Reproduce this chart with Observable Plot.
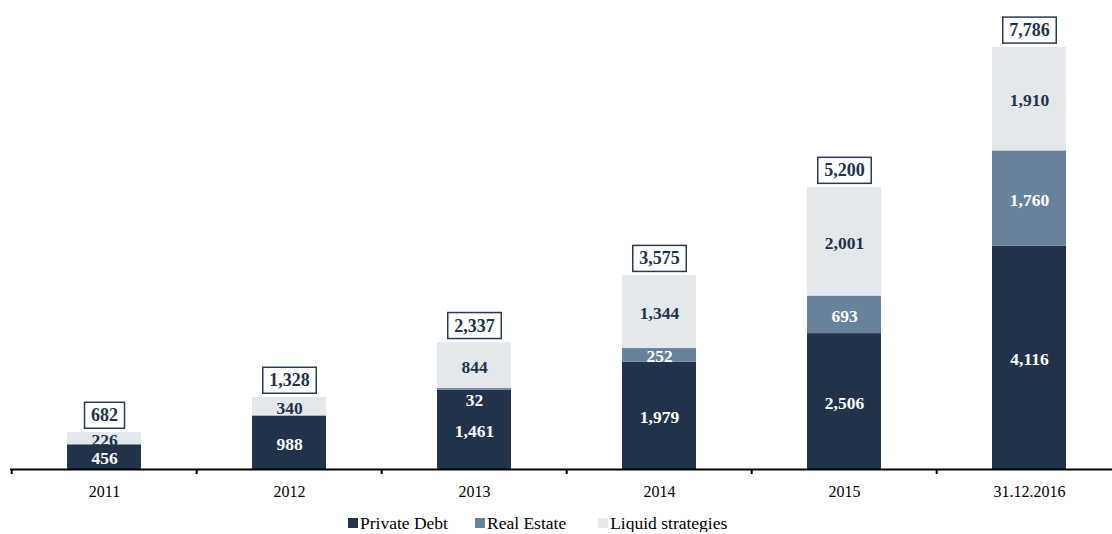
<!DOCTYPE html>
<html>
<head>
<meta charset="utf-8">
<script src="https://cdn.jsdelivr.net/npm/d3@7"></script>
<script src="https://cdn.jsdelivr.net/npm/@observablehq/plot@0.6"></script>
<style>
  html, body { margin: 0; padding: 0; background: #fff; overflow: hidden; }
  #chart { width: 1112px; }
  #legend { display: flex; justify-content: flex-start; align-items: center; padding-left: 348px; margin-top: 9px;
            font-family: "Liberation Serif", "Times New Roman", serif; font-size: 17.5px; color: #000; line-height: 18px; }
  .item { display: flex; align-items: center; }
  .item + .item { margin-left: 27px; }
  .item + .item + .item { margin-left: 32px; }
  .sw { width: 10px; height: 10px; margin-right: 2px; }
</style>
</head>
<body>
<div id="chart"></div>
<div id="legend"></div>
<script>
const categories = ["2011", "2012", "2013", "2014", "2015", "31.12.2016"];
const seriesNames = ["Private Debt", "Real Estate", "Liquid strategies"];
const privateDebt = [456, 988, 1461, 1979, 2506, 4116];
const realEstate = [0, 0, 32, 252, 693, 1760];
const liquidStrategies = [226, 340, 844, 1344, 2001, 1910];
const totals = [682, 1328, 2337, 3575, 5200, 7786];
const seriesColors = ["#22324b", "#68829a", "#e3e8ed"];
const labelColors = ["#ffffff", "#ffffff", "#22324b"];

const seriesValues = [privateDebt, realEstate, liquidStrategies];
const rows = [];
categories.forEach((c, i) => {
  let base = 0;
  seriesNames.forEach((s, j) => {
    const v = seriesValues[j][i];
    rows.push({category: c, series: s, value: v, y1: base, y2: base + v, mid: base + v / 2});
    base += v;
  });
});
const totalRows = categories.map((c, i) => ({category: c, total: totals[i]}));

const fmt = d3.format(",");
const xRange = [10, 1123.6];
const step = (xRange[1] - xRange[0]) / categories.length;
const labelColor = new Map(seriesNames.map((s, j) => [s, labelColors[j]]));

const chart = Plot.plot({
  width: 1112,
  height: 505,
  marginTop: 0,
  marginLeft: 10,
  marginRight: 0,
  marginBottom: 36,
  style: {fontFamily: "'Liberation Serif', 'Times New Roman', serif", background: "#fff"},
  x: {type: "band", domain: categories, range: xRange, paddingInner: 0.6, paddingOuter: 0.3},
  y: {domain: [0, 8650], axis: null},
  color: {domain: seriesNames, range: seriesColors},
  marks: [
    Plot.rectY(rows.filter(d => d.value > 0), {x: "category", y1: "y1", y2: "y2", fill: "series"}),
    Plot.text(rows.filter(d => d.value >= 100), {
      x: "category", y: "mid",
      text: d => fmt(d.value), fill: d => labelColor.get(d.series),
      fontSize: 17.5, fontWeight: "bold", dy: 1.5
    }),
    Plot.text(rows.filter(d => d.value > 0 && d.value < 100), {
      x: "category", y: "mid",
      text: d => fmt(d.value), fill: d => labelColor.get(d.series),
      fontSize: 17.5, fontWeight: "bold", dy: 11
    }),
    Plot.text(totalRows, {
      x: "category", y: "total", text: d => fmt(d.total),
      fill: "#22324b", fontSize: 18, fontWeight: "bold", dy: -17
    }),
    Plot.ruleY([0], {stroke: "#000", strokeWidth: 2}),
    Plot.ruleX(categories, {x: d => d, dx: -step / 2, y1: 0, y2: 0, insetBottom: -5, stroke: "#000", strokeWidth: 2}),
    Plot.axisX({tickSize: 0, tickPadding: 16, fontSize: 16, label: null, fill: "#000"})
  ]
});
document.getElementById("chart").appendChild(chart);

// draw boxes around total labels
const totalStrings = new Set(totals.map(fmt));
d3.select(chart).selectAll("text")
  .filter(function() { return totalStrings.has(this.textContent) && this.getAttribute("fill") !== "#000"; })
  .each(function() {
    const b = this.getBBox();
    const cy = b.y + b.height / 2;
    const tr = this.getAttribute("transform");
    const r = d3.select(this.parentNode).insert("rect", "text")
      .attr("x", b.x - 6.5).attr("y", cy - 13)
      .attr("width", b.width + 13).attr("height", 26)
      .attr("fill", "#fff").attr("stroke", "#2a3a55").attr("stroke-width", 1.5);
    if (tr) r.attr("transform", tr);
  });

const legend = document.getElementById("legend");
seriesNames.forEach((s, j) => {
  const item = document.createElement("div");
  item.className = "item";
  const sw = document.createElement("span");
  sw.className = "sw";
  sw.style.background = seriesColors[j];
  const t = document.createElement("span");
  t.textContent = s;
  item.appendChild(sw);
  item.appendChild(t);
  legend.appendChild(item);
});
</script>
</body>
</html>
